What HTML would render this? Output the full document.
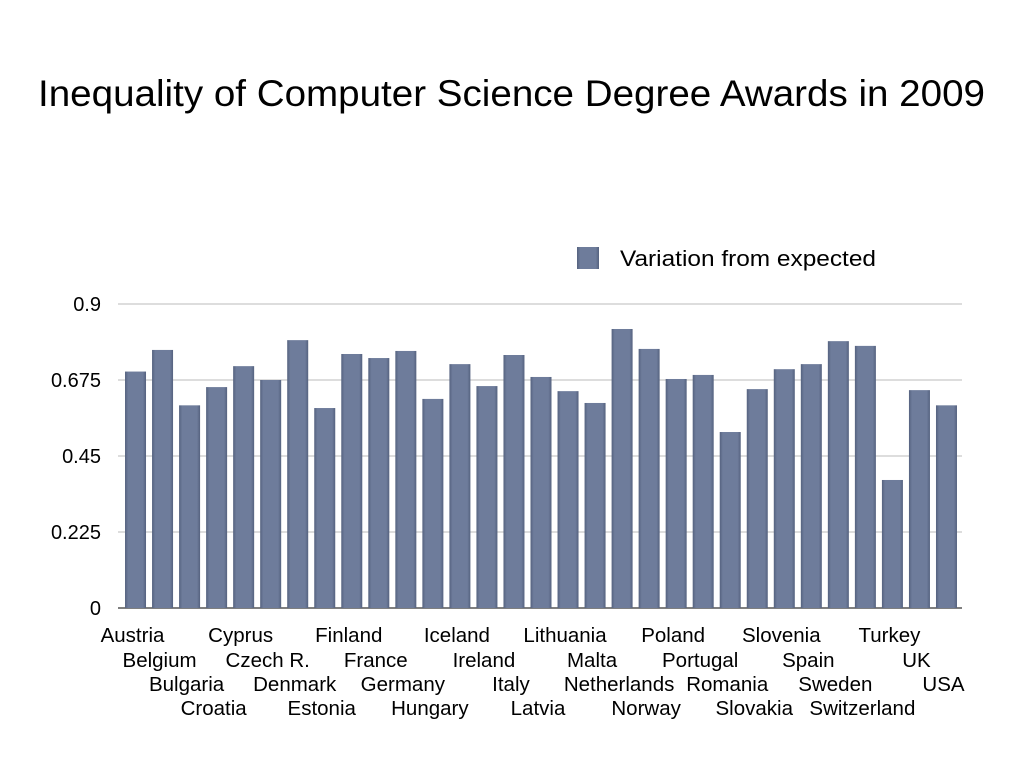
<!DOCTYPE html>
<html><head><meta charset="utf-8">
<style>
html,body{margin:0;padding:0;background:#fff;}
body{width:1024px;height:768px;overflow:hidden;font-family:"Liberation Sans",sans-serif;}
</style></head>
<body>
<svg width="1024" height="768" xmlns="http://www.w3.org/2000/svg">
<defs>
<linearGradient id="bg" x1="0" x2="1" y1="0" y2="0">
<stop offset="0" stop-color="#55627f"/><stop offset="0.15" stop-color="#6e7c9b"/>
<stop offset="0.85" stop-color="#6e7c9b"/><stop offset="1" stop-color="#55627f"/>
</linearGradient>
</defs>
<text x="38" y="106" textLength="947" lengthAdjust="spacingAndGlyphs" font-size="37" fill="#000">Inequality of Computer Science Degree Awards in 2009</text>
<rect x="577" y="247" width="22" height="22" fill="url(#bg)"/>
<text x="620" y="266" textLength="256" lengthAdjust="spacingAndGlyphs" font-size="22" fill="#000">Variation from expected</text>
<g id="grid"></g>
<g id="bars"></g>
<g id="labels"></g>
</svg>
<script>
const categories=["Austria","Belgium","Bulgaria","Croatia","Cyprus","Czech R.","Denmark","Estonia","Finland","France","Germany","Hungary","Iceland","Ireland","Italy","Latvia","Lithuania","Malta","Netherlands","Norway","Poland","Portugal","Romania","Slovakia","Slovenia","Spain","Sweden","Switzerland","Turkey","UK","USA"];
const values=[0.70,0.764,0.60,0.654,0.716,0.675,0.793,0.592,0.752,0.74,0.761,0.619,0.722,0.657,0.749,0.684,0.642,0.607,0.826,0.767,0.678,0.69,0.521,0.648,0.707,0.722,0.79,0.776,0.379,0.645,0.60];
const ticks=[0,0.225,0.45,0.675,0.9];
const tickLabels=["0","0.225","0.45","0.675","0.9"];
const NS="http://www.w3.org/2000/svg";
const x0=122,x1=960,gx0=118,gx1=962,yBase=608,yTop=304,vMax=0.9;
const y=v=>yBase-(v/vMax)*(yBase-yTop);
const step=(x1-x0)/categories.length;
const xc=i=>x0+step*(i+0.5);
const grid=document.getElementById('grid'),bars=document.getElementById('bars'),labels=document.getElementById('labels');
ticks.forEach((t,i)=>{
 const l=document.createElementNS(NS,'line');
 l.setAttribute('x1',gx0);l.setAttribute('x2',gx1);l.setAttribute('y1',y(t));l.setAttribute('y2',y(t));
 l.setAttribute('stroke',t===0?'#555':'#bbb');l.setAttribute('stroke-width',t===0?1.5:1);
 
 
 grid.appendChild(l);
 const tx=document.createElementNS(NS,'text');
 tx.setAttribute('x',101);tx.setAttribute('y',y(t)+7);tx.setAttribute('text-anchor','end');tx.setAttribute('font-size','20');
 tx.textContent=tickLabels[i];
 
 
 grid.appendChild(tx);
});
const bw=21;
values.forEach((v,i)=>{
 const r=document.createElementNS(NS,'rect');
 r.setAttribute('x',xc(i)-bw/2);r.setAttribute('width',bw);r.setAttribute('y',y(v));r.setAttribute('height',yBase-y(v));
 r.setAttribute('fill','url(#bg)');
 
 
 bars.appendChild(r);
});
const rowY=[642,667,691,715];
categories.forEach((c,i)=>{
 const t=document.createElementNS(NS,'text');
 t.setAttribute('x',xc(i)-3);t.setAttribute('y',rowY[i%4]);t.setAttribute('text-anchor','middle');t.setAttribute('font-size','20.5');
 t.textContent=c;
 
 
 labels.appendChild(t);
});
</script>
</body></html>
